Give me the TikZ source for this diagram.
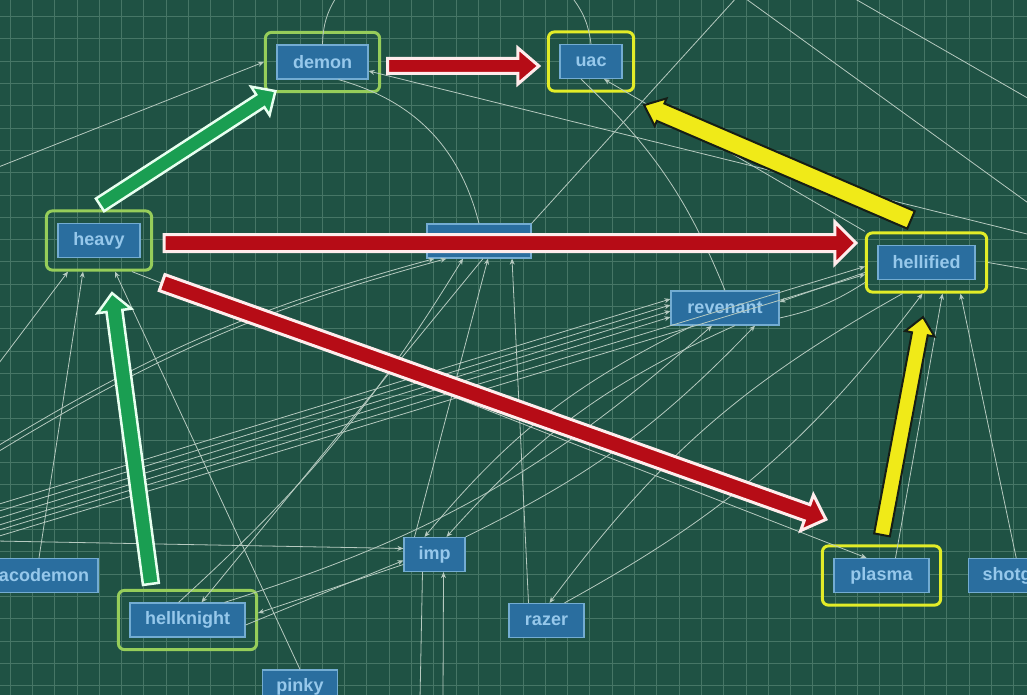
\documentclass[tikz,border=0pt]{standalone}
\usepackage{fontspec}
\setsansfont{Liberation Sans}
\usepackage{tikz}
\usetikzlibrary{positioning,arrows.meta,calc,fit}

\definecolor{board}{RGB}{31,82,68}
\definecolor{gridc}{RGB}{70,118,102}
\definecolor{boxfill}{RGB}{42,110,159}
\definecolor{boxedge}{RGB}{115,172,210}
\definecolor{boxtext}{RGB}{150,200,235}
\definecolor{wirec}{RGB}{182,202,192}
\definecolor{limeframe}{RGB}{150,205,90}
\definecolor{yelframe}{RGB}{226,236,40}
\definecolor{redfill}{RGB}{182,12,22}
\definecolor{redrim}{RGB}{255,236,236}
\definecolor{greenfill}{RGB}{26,158,82}
\definecolor{greenrim}{RGB}{232,255,240}
\definecolor{yelfill}{RGB}{240,234,24}
\definecolor{yelrim}{RGB}{22,30,22}

% fat highlight arrow: tail, tip, fill, rim, half shaft, half head, head length, rim width
\newcommand{\fatarrow}[8]{%
  \coordinate (fa-s) at (#1);
  \coordinate (fa-e) at (#2);
  \coordinate (fa-m) at ($(fa-e)!#7!(fa-s)$);
  \filldraw[fill=#3, draw=#4, line width=#8, line join=miter]
    ($(fa-s)!#5!90:(fa-e)$) -- ($(fa-m)!#5!90:(fa-e)$) -- ($(fa-m)!#6!90:(fa-e)$)
    -- (fa-e) -- ($(fa-m)!#6!-90:(fa-e)$) -- ($(fa-m)!#5!-90:(fa-e)$)
    -- ($(fa-s)!#5!-90:(fa-e)$) -- cycle;}

\begin{document}
\begin{tikzpicture}[x=1pt,y=-1pt,>={Stealth[length=6pt,width=5pt]},
    box/.style={draw=boxedge,fill=boxfill,line width=1.2pt,text=boxtext,
                font=\sffamily\bfseries\fontsize{18}{18}\selectfont,
                minimum height=34pt,inner sep=0pt},
    hilite/.style={draw=#1,line width=3pt,rounded corners=6pt,
                   inner xsep=11pt,inner ysep=12pt},
    wire/.style={draw=wirec,line width=0.8pt}]
  \tikzstyle{every edge}=[wire]

  \useasboundingbox (0,0) rectangle (1027,695);
  \clip (0,0) rectangle (1027,695);
  \fill[board] (0,0) rectangle (1027,695);
  \foreach \gx in {10,32.3,...,1027}
    \draw[gridc,line width=0.8pt] (\gx,0) -- (\gx,695);
  \foreach \gy in {16.5,38.8,...,695}
    \draw[gridc,line width=0.8pt] (0,\gy) -- (1027,\gy);

  % monsters
  \node[box,minimum width=91pt]  (demon)      at (322.5,62)  {demon};
  \node[box,minimum width=62pt]  (uac)        at (591,61.5)  {uac};
  \node[box,minimum width=82pt]  (heavy)      at (99,240.5)  {heavy};
  \node[box,minimum width=104pt] (hub)        at (479,241)   {};
  \node[box,minimum width=97pt]  (hellified)  at (926.5,262.5) {hellified};
  \node[box,minimum width=108pt] (revenant)   at (725,308)   {revenant};
  \node[box,minimum width=61pt]  (imp)        at (434.5,554.5) {imp};
  \node[box,minimum width=118pt] (caco)       at (39,575.5)  {cacodemon};
  \node[box,minimum width=115pt] (hellknight) at (187.5,620) {hellknight};
  \node[box,minimum width=75pt]  (pinky)      at (300,687)   {pinky};
  \node[box,minimum width=75pt]  (razer)      at (546.5,620.5) {razer};
  \node[box,minimum width=95pt]  (plasma)     at (881.5,575.5) {plasma};
  \node[box,minimum width=100pt,right=38pt of plasma] (shotgun) {shotgun};

  % highlight rings
  \node[hilite=limeframe,fit=(demon)]      (demonhl) {};
  \node[hilite=yelframe,fit=(uac)]         (uachl) {};
  \node[hilite=limeframe,fit=(heavy)]      (heavyhl) {};
  \node[hilite=yelframe,fit=(hellified)]   (hellifiedhl) {};
  \node[hilite=limeframe,fit=(hellknight)] (hellknighthl) {};
  \node[hilite=yelframe,fit=(plasma)]      (plasmahl) {};

  % loose ends at the border
  \coordinate (top1) at (337,-4);   \coordinate (top2) at (571,-4);
  \coordinate (top3) at (738,-4);   \coordinate (top4) at (742,-4);
  \coordinate (top5) at (850,-4);
  \coordinate (rgt1) at (1031,100); \coordinate (rgt2) at (1031,205);
  \coordinate (rgt3) at (1031,235); \coordinate (rgt4) at (1031,270);
  \coordinate (lft1) at (-4,168);   \coordinate (lft2) at (-4,367);
  \coordinate (lft3) at (-4,447);   \coordinate (lft4) at (-4,453);
  \coordinate (lft5) at (-4,505);   \coordinate (lft6) at (-4,512);
  \coordinate (lft7) at (-4,519);   \coordinate (lft8) at (-4,526);
  \coordinate (lft9) at (-4,531);   \coordinate (lft10) at (-4,537);
  \coordinate (lft11) at (-4,541);
  \coordinate (bot1) at (420,699);  \coordinate (bot2) at (443,699);

  % thin links
  \path (top1) edge[bend right=15] (demon.north)
        (top2) edge[bend left=15]  (uac.north)
        (top3) edge (hub.north east)
        (top4) edge (rgt2)
        (top5) edge (rgt1)
        (rgt3) edge[->] ($(demon.east)+(0,9)$)
        (lft1) edge[->] (demonhl.west)
        ($(demon.south)+(16,0)$) edge[bend left=30] (hub.north)
        ($(uac.south)+(-10,0)$) edge[bend left=12] (revenant.north)
        (hellifiedhl.north west) edge[->] ($(uac.south)+(13,0)$)
        (hellifiedhl.east) edge (rgt4);
  \path (caco.north) edge[->] ($(heavyhl.south)+(-16,0)$)
        (lft2) edge[->] ($(heavyhl.south)+(-31,0)$)
        (pinky.north) edge[->] ($(heavyhl.south)+(16,0)$)
        ($(heavyhl.south)+(33,0)$) edge[->] ($(plasma.north)+(-15,0)$)
        ($(hellknight.north)+(-9,0)$) edge[->,bend right=8] ($(hub.south)+(-16,0)$)
        ($(hub.south)+(4,0)$) edge[->] ($(hellknight.north)+(14,0)$)
        ($(imp.north)+(-20,0)$) edge[->] ($(hub.south)+(9,0)$)
        ($(razer.north)+(-18,0)$) edge[->] ($(hub.south)+(33,0)$)
        ($(hellknight.north)+(37,0)$) edge[->,bend right=12] ($(revenant.south)+(-13,0)$)
        ($(revenant.south)+(-32,0)$) edge[->,bend right=12] ($(imp.north)+(-10,0)$)
        ($(revenant.south)+(10,0)$) edge[->,bend right=12] ($(imp.north)+(12,0)$)
        (imp.north east) edge[->,bend right=10] ($(revenant.south)+(30,0)$)
        ($(hellifiedhl.south)+(-24,0)$) edge[->,bend right=12] ($(razer.north)+(3,0)$)
        ($(razer.north)+(18,0)$) edge[->,bend right=12] ($(hellifiedhl.south)+(-4,0)$)
        ($(plasma.north)+(14,0)$) edge[->] ($(hellifiedhl.south)+(16,0)$)
        ($(shotgun.north)+(-2,0)$) edge[->] ($(hellifiedhl.south)+(34,0)$)
        ($(hellifiedhl.west)+(0,10)$) edge[->] ($(revenant.east)+(0,-6)$)
        ($(revenant.east)+(0,10)$) edge[bend right=10] ($(hellifiedhl.west)+(0,20)$);
  \path (lft3) edge[->,bend left=8] ($(hub.south west)+(8,0)$)
        (lft4) edge[->,bend left=8] ($(hub.south west)+(20,0)$)
        (lft5) edge[->] ($(revenant.west)+(0,-9)$)
        (lft6) edge[->] ($(revenant.west)+(0,-3)$)
        (lft7) edge[->] ($(revenant.west)+(0,3)$)
        (lft8) edge[->] ($(revenant.west)+(0,9)$)
        (lft9) edge[->] ($(hellifiedhl.west)+(0,4)$)
        (lft10) edge[->] ($(hellifiedhl.west)+(0,12)$)
        (lft11) edge[->] ($(imp.west)+(0,-6)$)
        ($(hellknight.east)+(0,5)$) edge[->] ($(imp.west)+(0,6)$)
        ($(imp.west)+(0,10)$) edge[->] ($(hellknighthl.east)+(0,-7)$)
        (bot1) edge ($(imp.south)+(-12,0)$)
        (bot2) edge[->] ($(imp.south)+(9,0)$);

  % highlight arrows
  \fatarrow{$(demonhl.east)+(6.5,4)$}{$(uachl.west)+(-8,4.5)$}{redfill}{redrim}{7.5pt}{18pt}{21pt}{3pt}
  \fatarrow{$(heavyhl.east)+(11,2.5)$}{$(hellifiedhl.west)+(-9,-19.5)$}{redfill}{redrim}{8.5pt}{21pt}{21pt}{3pt}
  \fatarrow{$(heavyhl.south east)+(9,11)$}{$(plasmahl.north west)+(5,-25)$}{redfill}{redrim}{8.5pt}{19pt}{20pt}{3pt}
  \fatarrow{$(heavyhl.north)+(1,-4.5)$}{$(demonhl.south west)+(11.5,-2)$}{greenfill}{greenrim}{7.5pt}{17pt}{18pt}{2.5pt}
  \fatarrow{$(hellknighthl.north west)+(34,-5)$}{$(heavyhl.south)+(13,21.5)$}{greenfill}{greenrim}{8pt}{17pt}{18pt}{2.5pt}
  \fatarrow{$(hellifiedhl.north)+(-15.5,-11.5)$}{$(uachl.south east)+(9,12.5)$}{yelfill}{yelrim}{9.5pt}{15pt}{18pt}{2pt}
  \fatarrow{$(plasmahl.north)+(0.5,-9.5)$}{$(hellifiedhl.south)+(-3.5,23.5)$}{yelfill}{yelrim}{8pt}{15pt}{17pt}{2pt}
\end{tikzpicture}
\end{document}
